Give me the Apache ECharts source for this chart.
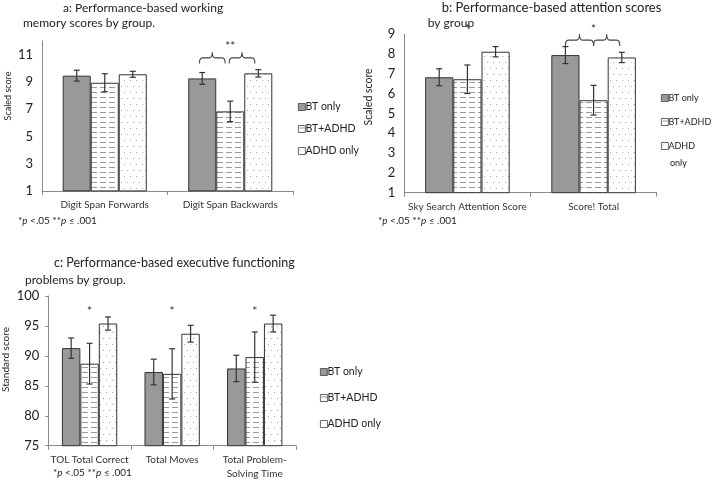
<!DOCTYPE html>
<html>
<head>
<meta charset="utf-8">
<script src="https://cdn.jsdelivr.net/npm/echarts@6/dist/echarts.min.js"></script>
<style>
  html, body { margin: 0; padding: 0; background: #fff; }
  #chart { width: 713px; height: 481px; }
</style>
</head>
<body>
<div id="chart"></div>
<script>
// groups (legend)
var groups = ['BT only', 'BT+ADHD', 'ADHD only'];

// panel a: working memory
var catsA = ['Digit Span Forwards', 'Digit Span Backwards'];
var aBT = [9.45, 9.25];
var aBTADHD = [8.93, 6.83];
var aADHD = [9.55, 9.62];
var aBTErr = [0.4, 0.43];
var aBTADHDErr = [0.66, 0.75];
var aADHDErr = [0.22, 0.27];

// panel b: attention
var catsB = ['Sky Search Attention Score', 'Score! Total'];
var bBT = [6.83, 7.95];
var bBTADHD = [6.73, 5.67];
var bADHD = [8.12, 7.83];
var bBTErr = [0.43, 0.43];
var bBTADHDErr = [0.72, 0.75];
var bADHDErr = [0.26, 0.26];

// panel c: executive functioning
var catsC = ['TOL Total Correct', 'Total Moves', 'Total Problem-\nSolving Time'];
var cBT = [91.3, 87.3, 87.9];
var cBTADHD = [88.7, 87.0, 89.8];
var cADHD = [95.4, 93.7, 95.4];
var cBTErr = [1.7, 2.15, 2.2];
var cBTADHDErr = [3.4, 4.2, 4.2];
var cADHDErr = [1.1, 1.4, 1.4];

// significance marks: [category, bar offset, value, text]
var starsA = [[1, 0, 11.84, '**']];
var starsB = [[0, 0, 9.42, '*'], [1, 0, 9.4, '*']];
var starsC = [[0, 0, 97.9, '*'], [1, 0, 97.9, '*'], [2, 0, 97.9, '*']];
// braces: [category, from offset, to offset, bottom value, top value]
var bracesA = [[1, -1.1, -0.18, 10.35, 11.16], [1, -0.04, 0.88, 10.35, 11.16]];
var bracesB = [[1, -1.0, 0.0, 8.41, 9.0], [1, 0.0, 0.93, 8.41, 9.0]];

var FONT = 'Lato, "Open Sans", sans-serif';
var GAP = 0.33;

function dashPattern() {
  var c = document.createElement('canvas');
  c.width = 9; c.height = 5;
  var g = c.getContext('2d');
  g.fillStyle = '#fff'; g.fillRect(0, 0, 9, 5);
  g.fillStyle = '#9a9a9a'; g.fillRect(1, 2, 6, 1);
  return c;
}
function dotPattern() {
  var c = document.createElement('canvas');
  c.width = 6; c.height = 12;
  var g = c.getContext('2d');
  g.fillStyle = '#fff'; g.fillRect(0, 0, 6, 12);
  g.fillStyle = '#a8a8a8';
  g.fillRect(1, 2, 1, 1);
  g.fillRect(4, 8, 1, 1);
  return c;
}
var fills = ['#999999', {image: dashPattern(), repeat: 'repeat'}, {image: dotPattern(), repeat: 'repeat'}];

function zip(means, errs) {
  return means.map(function (m, i) { return [i, m, errs[i]]; });
}

function barWidthOf(api) {
  return api.size([1, 0])[0] * (1 - GAP) / 3;
}

function errRender(offset) {
  return function (params, api) {
    var hi = api.coord([api.value(0), api.value(1) + api.value(2)]);
    var lo = api.coord([api.value(0), api.value(1) - api.value(2)]);
    var x = hi[0] + offset * barWidthOf(api);
    var s = {stroke: '#333', lineWidth: 1.2};
    return {type: 'group', children: [
      {type: 'line', shape: {x1: x, y1: hi[1], x2: x, y2: lo[1]}, style: s},
      {type: 'line', shape: {x1: x - 3, y1: hi[1], x2: x + 3, y2: hi[1]}, style: s},
      {type: 'line', shape: {x1: x - 3, y1: lo[1], x2: x + 3, y2: lo[1]}, style: s}
    ]};
  };
}

var starTexts = {
  starsA: starsA.map(function (d) { return d[3]; }),
  starsB: starsB.map(function (d) { return d[3]; }),
  starsC: starsC.map(function (d) { return d[3]; })
};
function starRender(params, api) {
  var p = api.coord([api.value(0), api.value(2)]);
  var x = p[0] + api.value(1) * barWidthOf(api);
  return {type: 'text', x: x, y: p[1] + 3, style: {
    text: starTexts[params.seriesName][params.dataIndex], fill: '#333',
    font: '12px ' + FONT, textAlign: 'center', textVerticalAlign: 'middle'}};
}

function braceRender(params, api) {
  var bw = barWidthOf(api);
  var b = api.coord([api.value(0), api.value(3)]);
  var t = api.coord([api.value(0), api.value(4)]);
  var x1 = b[0] + api.value(1) * bw, x2 = b[0] + api.value(2) * bw;
  var yb = b[1], yt = t[1], yf = (yb + yt) / 2, xm = (x1 + x2) / 2, r = 3;
  var path = 'M' + x1 + ' ' + yb + ' Q' + x1 + ' ' + yf + ' ' + (x1 + r) + ' ' + yf +
    ' L' + (xm - r) + ' ' + yf + ' Q' + xm + ' ' + yf + ' ' + xm + ' ' + yt +
    ' Q' + xm + ' ' + yf + ' ' + (xm + r) + ' ' + yf +
    ' L' + (x2 - r) + ' ' + yf + ' Q' + x2 + ' ' + yf + ' ' + x2 + ' ' + yb;
  return {type: 'path', shape: {pathData: path}, style: {stroke: '#444', lineWidth: 1.1, fill: null}};
}

var panels = [
  {cats: catsA, means: [aBT, aBTADHD, aADHD], errs: [aBTErr, aBTADHDErr, aADHDErr], stars: starsA, starName: 'starsA', braces: bracesA},
  {cats: catsB, means: [bBT, bBTADHD, bADHD], errs: [bBTErr, bBTADHDErr, bADHDErr], stars: starsB, starName: 'starsB', braces: bracesB},
  {cats: catsC, means: [cBT, cBTADHD, cADHD], errs: [cBTErr, cBTADHDErr, cADHDErr], stars: starsC, starName: 'starsC', braces: null}
];

var series = [];
panels.forEach(function (p, k) {
  groups.forEach(function (g, i) {
    series.push({
      name: g, type: 'bar', xAxisIndex: k, yAxisIndex: k,
      barGap: '0%', barCategoryGap: (GAP * 100) + '%',
      itemStyle: {color: fills[i], borderColor: '#333', borderWidth: 1},
      data: p.means[i], z: 2
    });
  });
  groups.forEach(function (g, i) {
    series.push({
      type: 'custom', xAxisIndex: k, yAxisIndex: k, z: 5,
      renderItem: errRender(i - 1), data: zip(p.means[i], p.errs[i])
    });
  });
  series.push({name: p.starName, type: 'custom', xAxisIndex: k, yAxisIndex: k, z: 5,
    renderItem: starRender, data: p.stars.map(function (d) { return d.slice(0, 3); })});
  if (p.braces) {
    series.push({type: 'custom', xAxisIndex: k, yAxisIndex: k, z: 5,
      renderItem: braceRender, data: p.braces});
  }
});

var axisLineStyle = {lineStyle: {color: '#8a8a8a', width: 1}};
function xAxis(k, cats) {
  return {type: 'category', gridIndex: k, data: cats,
    axisLine: axisLineStyle,
    axisTick: {show: true, length: 4, lineStyle: {color: '#8a8a8a'}},
    axisLabel: {color: '#333', fontSize: 10, fontFamily: FONT, margin: 7, lineHeight: 14, interval: 0}};
}
function yAxis(k, min, max, step, ticks) {
  return {type: 'value', gridIndex: k, min: min, max: max, interval: step,
    splitLine: {show: false},
    axisLine: {show: true, lineStyle: {color: '#8a8a8a', width: 1}},
    axisTick: {show: ticks, length: 3, lineStyle: {color: '#8a8a8a'}},
    axisLabel: {color: '#222', fontSize: 13, fontFamily: FONT, margin: 9, showMaxLabel: k !== 0}};
}

function legend(left, top, gap, shortName, size) {
  return {orient: 'vertical', left: left, top: top, itemGap: gap, itemWidth: 7, itemHeight: 7,
    padding: 0, icon: 'rect', data: groups,
    itemStyle: {borderWidth: 0.8, borderColor: '#444'},
    textStyle: {fontSize: size, fontFamily: FONT, color: '#222', padding: [0, 0, 0, -5], lineHeight: 16},
    formatter: shortName ? function (n) { return n === 'ADHD only' ? 'ADHD' : n; } : null,
    selectedMode: false};
}

function txt(x, y, s, size, rot) {
  return {type: 'text', x: x, y: y, rotation: rot || 0, style: {
    text: s, fill: '#222', font: size + 'px ' + FONT,
    textAlign: rot ? 'center' : 'left', textVerticalAlign: 'middle'}};
}
function note(x, y) {
  return {type: 'text', x: x, y: y, style: {
    text: '*{i|p} <.05 **{i|p} \u2264 .001', fill: '#222', font: '10px ' + FONT,
    textVerticalAlign: 'middle', rich: {i: {fontStyle: 'italic', fontSize: 10, fontFamily: FONT}}}};
}

var chart = echarts.init(document.getElementById('chart'), null, {renderer: 'canvas'});
chart.setOption({
  animation: false,
  backgroundColor: '#fff',
  grid: [
    {left: 42, top: 40.9, width: 251, height: 150},
    {left: 404.3, top: 34.3, width: 252.4, height: 158.4},
    {left: 48.3, top: 296, width: 247.7, height: 149.7}
  ],
  xAxis: [xAxis(0, catsA), xAxis(1, catsB), xAxis(2, catsC)],
  yAxis: [yAxis(0, 1, 12, 2, false), yAxis(1, 1, 9, 1, false), yAxis(2, 75, 100, 5, true)],
  legend: [legend(298, 99, 6, false, 10.5), legend(661, 90, 8, true, 9), legend(320, 364, 10, false, 10.5)],
  graphic: [
    txt(63, 8, 'a: Performance-based working', 12),
    txt(23, 23, 'memory scores by group.', 12),
    txt(441.7, 8, 'b: Performance-based attention scores', 13),
    txt(427.7, 23, 'by group', 12),
    txt(54, 262.5, 'c: Performance-based executive functioning', 12.5),
    txt(25, 280, 'problems by group.', 12),
    txt(8, 96, 'Scaled score', 9, Math.PI / 2),
    txt(368.5, 97, 'Scaled score', 10.5, Math.PI / 2),
    txt(6, 359.5, 'Standard score', 10, Math.PI / 2),
    txt(670, 163.5, 'only', 9),
    note(18, 221),
    note(378, 221),
    note(53, 473)
  ],
  series: series
});
</script>
</body>
</html>
